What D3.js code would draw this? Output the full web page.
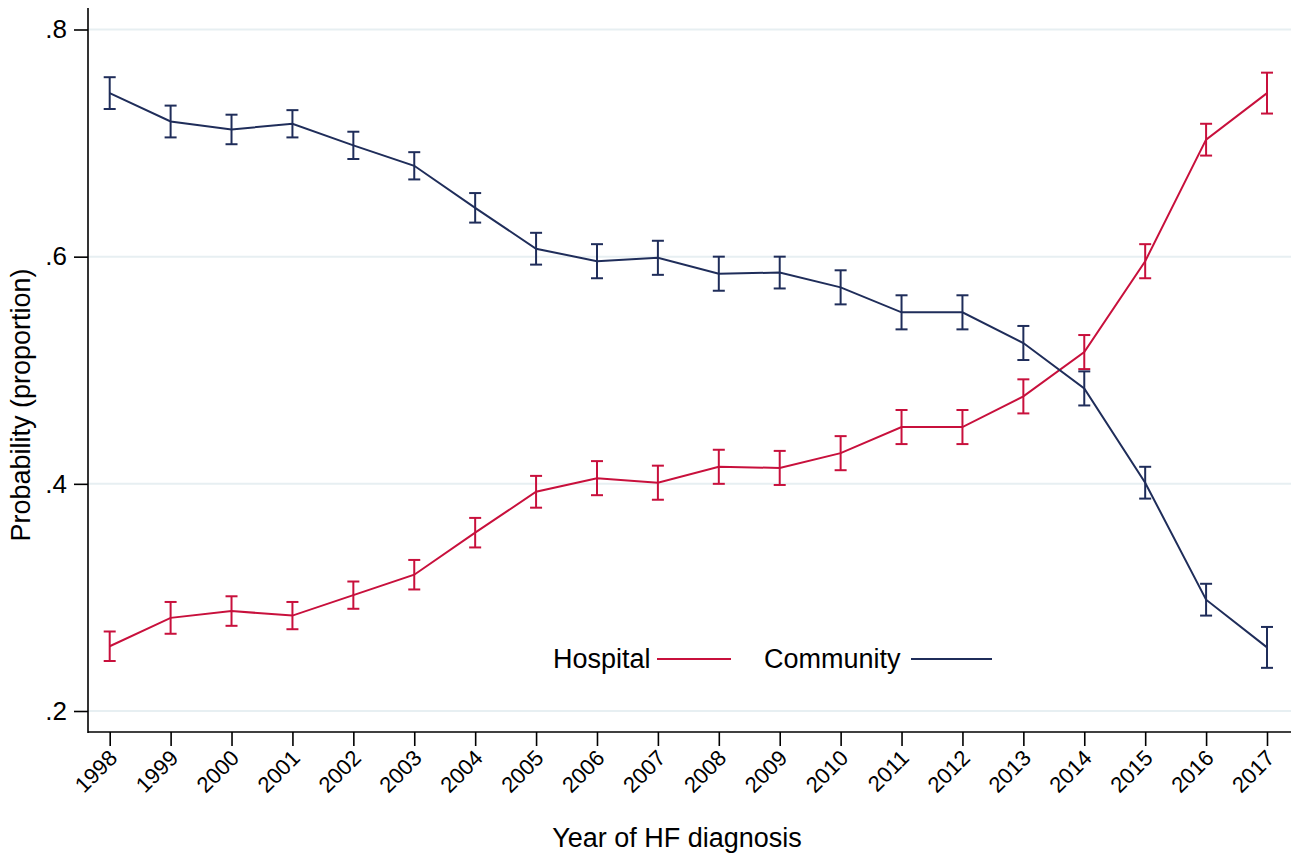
<!DOCTYPE html>
<html>
<head>
<meta charset="utf-8">
<script src="https://cdn.jsdelivr.net/npm/d3@7"></script>
<style>
  body { margin: 0; background: #fff; }
  text { font-family: "Liberation Sans", Arial, sans-serif; fill: #000; }
</style>
</head>
<body>
<svg id="chart"></svg>
<script>
var width = 1291,
    height = 858;

// data
var years = [1998, 1999, 2000, 2001, 2002, 2003, 2004, 2005, 2006, 2007,
             2008, 2009, 2010, 2011, 2012, 2013, 2014, 2015, 2016, 2017];
var community = [0.744, 0.719, 0.712, 0.717, 0.698, 0.680, 0.643, 0.607, 0.596, 0.599,
                 0.585, 0.586, 0.573, 0.551, 0.551, 0.524, 0.484, 0.401, 0.298, 0.256];
var communityCI = [0.014, 0.014, 0.013, 0.012, 0.012, 0.012, 0.013, 0.014, 0.015, 0.015,
                   0.015, 0.014, 0.015, 0.015, 0.015, 0.015, 0.015, 0.014, 0.014, 0.018];
var hospital = [0.257, 0.282, 0.288, 0.284, 0.302, 0.320, 0.357, 0.393, 0.405, 0.401,
                0.415, 0.414, 0.427, 0.450, 0.450, 0.477, 0.516, 0.596, 0.703, 0.744];
var hospitalCI = [0.013, 0.014, 0.013, 0.012, 0.012, 0.013, 0.013, 0.014, 0.015, 0.015,
                  0.015, 0.015, 0.015, 0.015, 0.015, 0.015, 0.015, 0.015, 0.014, 0.018];
var yTicks = [0.2, 0.4, 0.6, 0.8];

var navy = "#1f2d5a",
    red = "#c8103c",
    grid = "#e7eff2";

var series = [
  {name: "Hospital", color: red, values: hospital, ci: hospitalCI},
  {name: "Community", color: navy, values: community, ci: communityCI}
];

var svg = d3.select("#chart")
    .attr("width", width)
    .attr("height", height);

var x = d3.scaleLinear().domain([1998, 2017]).range([109.7, 1267]),
    y = d3.scaleLinear().domain([0.2, 0.8]).range([711, 29.5]);

var axisLeftX = 88,
    axisBottomY = 732;

// gridlines
svg.append("g").selectAll("line")
    .data(yTicks)
  .enter().append("line")
    .attr("x1", axisLeftX)
    .attr("x2", width)
    .attr("y1", d => y(d))
    .attr("y2", d => y(d))
    .attr("stroke", grid)
    .attr("stroke-width", 2);

// y axis
var yAxis = svg.append("g")
    .attr("transform", "translate(" + axisLeftX + ",0)")
    .call(d3.axisLeft(y).tickValues(yTicks).tickSize(14).tickPadding(7)
      .tickFormat(d => d3.format(".1f")(d).replace(/^0/, "")));
yAxis.select(".domain").remove();
yAxis.selectAll(".tick line").attr("stroke", "#000").attr("stroke-width", 1.6);
yAxis.selectAll(".tick text").style("font-size", "26px");

svg.append("line")
    .attr("x1", axisLeftX).attr("x2", axisLeftX)
    .attr("y1", 8).attr("y2", axisBottomY + 1)
    .attr("stroke", "#000").attr("stroke-width", 1.6);

// x axis
var xAxis = svg.append("g")
    .attr("transform", "translate(0," + axisBottomY + ")")
    .call(d3.axisBottom(x).tickValues(years).tickSize(14).tickFormat(d3.format("d")));
xAxis.select(".domain").remove();
xAxis.selectAll(".tick line").attr("stroke", "#000").attr("stroke-width", 1.6);
xAxis.selectAll(".tick text")
    .style("font-size", "22px")
    .attr("text-anchor", "end")
    .attr("x", 0)
    .attr("y", 0)
    .attr("dy", "0.35em")
    .attr("transform", "translate(3,22)rotate(-45)");

svg.append("line")
    .attr("x1", axisLeftX).attr("x2", width)
    .attr("y1", axisBottomY).attr("y2", axisBottomY)
    .attr("stroke", "#000").attr("stroke-width", 1.6);

// axis titles
svg.append("text")
    .attr("transform", "translate(30,405)rotate(-90)")
    .attr("text-anchor", "middle")
    .style("font-size", "27px")
    .text("Probability (proportion)");

svg.append("text")
    .attr("x", 677)
    .attr("y", 847)
    .attr("text-anchor", "middle")
    .style("font-size", "27px")
    .text("Year of HF diagnosis");

// lines and error bars
var line = d3.line()
    .x((d, i) => x(years[i]))
    .y(d => y(d));

var capW = 6;

series.forEach(function(s) {
  var g = svg.append("g");

  g.append("path")
      .datum(s.values)
      .attr("fill", "none")
      .attr("stroke", s.color)
      .attr("stroke-width", 2)
      .attr("d", line);

  var bars = g.selectAll(".bar")
      .data(s.values.map((v, i) => ({year: years[i], lo: v - s.ci[i], hi: v + s.ci[i]})))
    .enter().append("g")
      .attr("class", "bar")
      .attr("stroke", s.color)
      .attr("stroke-width", 2);

  bars.append("line")
      .attr("x1", d => x(d.year)).attr("x2", d => x(d.year))
      .attr("y1", d => y(d.lo)).attr("y2", d => y(d.hi));
  bars.append("line")
      .attr("x1", d => x(d.year) - capW).attr("x2", d => x(d.year) + capW)
      .attr("y1", d => y(d.lo)).attr("y2", d => y(d.lo));
  bars.append("line")
      .attr("x1", d => x(d.year) - capW).attr("x2", d => x(d.year) + capW)
      .attr("y1", d => y(d.hi)).attr("y2", d => y(d.hi));
});

// legend
var legendPos = [{tx: 553, lx1: 657, lx2: 731}, {tx: 764, lx1: 911, lx2: 992}];
var legend = svg.append("g").selectAll("g")
    .data(series)
  .enter().append("g");

legend.append("text")
    .attr("x", (d, i) => legendPos[i].tx)
    .attr("y", 668)
    .style("font-size", "27px")
    .text(d => d.name);

legend.append("line")
    .attr("x1", (d, i) => legendPos[i].lx1)
    .attr("x2", (d, i) => legendPos[i].lx2)
    .attr("y1", 659).attr("y2", 659)
    .attr("stroke", d => d.color)
    .attr("stroke-width", 2);
</script>
</body>
</html>
